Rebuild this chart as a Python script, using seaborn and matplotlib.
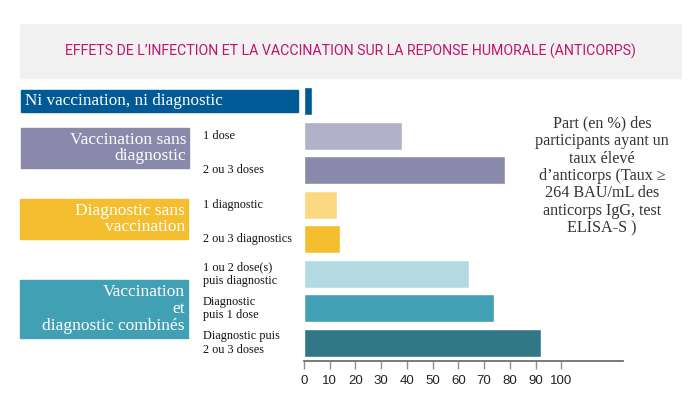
import seaborn as sns
import matplotlib.pyplot as plt
import matplotlib.transforms as mtransforms
from matplotlib.patches import Rectangle
import pandas as pd

# Data
bar_labels = [
    "Ni vaccination, ni diagnostic",
    "1 dose",
    "2 ou 3 doses",
    "1 diagnostic",
    "2 ou 3 diagnostics",
    "1 ou 2 dose(s)\npuis diagnostic",
    "Diagnostic\npuis 1 dose",
    "Diagnostic puis\n2 ou 3 doses",
]
values = [3, 38, 78, 13, 14, 64, 74, 92]
bar_colors = ["#005a96", "#b1b1c9", "#8a89ab", "#fad982", "#f5be2f",
              "#b3dae3", "#42a0b4", "#317787"]

group_labels = ["Ni vaccination, ni diagnostic", "Vaccination sans\ndiagnostic",
                "Diagnostic sans\nvaccination", "Vaccination\net\ndiagnostic combinés"]
group_colors = ["#005a96", "#8a89ab", "#f5be2f", "#42a0b4"]

x_ticks = [0, 10, 20, 30, 40, 50, 60, 70, 80, 90, 100]
title = "EFFETS DE L\u2019INFECTION ET LA VACCINATION SUR LA REPONSE HUMORALE (ANTICORPS)"
note = ("Part (en %) des\nparticipants ayant un\ntaux élevé\nd\u2019anticorps (Taux \u2265\n"
        "264 BAU/mL des\nanticorps IgG, test\nELISA-S )")

W, H = 700, 395
SERIF = ["Liberation Serif", "DejaVu Serif"]

sns.set_style("white")
plt.rcParams["font.family"] = ["Liberation Sans", "DejaVu Sans"]

fig = plt.figure(figsize=(W / 100, H / 100), dpi=100)


def px_box(x0, y0, x1, y1):
    # pixel box (top-left origin) -> figure coords
    return [x0 / W, 1 - y1 / H, (x1 - x0) / W, (y1 - y0) / H]


# title band
fig.patches.append(Rectangle((20 / W, 1 - 78 / H), 661 / W, 54 / H,
                             transform=fig.transFigure, color="#f1f1f1", zorder=0))
t = fig.text(350 / W, 1 - 51 / H, title, ha="center", va="center", color="#c0136f",
             fontsize=12, family=["Roboto", "DejaVu Sans"])
# shrink the title so it spans the same width as the original (~571 px)
r = fig.canvas.get_renderer()
t.set_fontsize(12 * 571 / t.get_window_extent(r).width)

# bars
ax = fig.add_axes(px_box(304, 83.7, 623, 361))
df = pd.DataFrame({"label": bar_labels, "value": values})
sns.barplot(data=df, x="value", y="label", hue="label", palette=bar_colors,
            legend=False, saturation=1, width=0.81, ax=ax)
ax.set_xlim(0, 124)
ax.set_ylim(7.52, -0.5)
ax.set_xticks(x_ticks)
ax.set_xticklabels([str(t) for t in x_ticks], fontsize=9.5, color="#222222")
ax.set_yticks([])
ax.set_xlabel("")
ax.set_ylabel("")
for s in ["top", "right", "left"]:
    ax.spines[s].set_visible(False)
ax.spines["bottom"].set_color("#707070")
ax.spines["bottom"].set_linewidth(1.3)
ax.tick_params(axis="x", bottom=True, direction="out", length=6, width=1,
               color="#909090", pad=4)

# sub labels next to the bars
trans = mtransforms.blended_transform_factory(fig.transFigure, ax.transData)
for i, lab in enumerate(bar_labels[1:], start=1):
    ax.text(203 / W, i, lab, transform=trans, ha="left", va="center",
            fontsize=8.8, family=SERIF, color="#111111", linespacing=1.15)

# group boxes on the left
boxes = [(21, 90, 298, 112), (21, 128, 189, 168), (20, 199, 188, 239), (20, 280, 188, 338)]
for k, (x0, y0, x1, y1) in enumerate(boxes):
    fig.patches.append(Rectangle((x0 / W, 1 - y1 / H), (x1 - x0) / W, (y1 - y0) / H,
                                 transform=fig.transFigure, color=group_colors[k], zorder=0))
    if k == 0:
        fig.text((x0 + 4) / W, 1 - (y0 + y1) / 2 / H, group_labels[k], ha="left",
                 va="center", color="white", fontsize=12.3, family=SERIF)
    else:
        fig.text((x1 - 3) / W, 1 - (y0 + y1) / 2 / H, group_labels[k], ha="right",
                 va="center", color="white", fontsize=12.5, family=SERIF,
                 multialignment="right", linespacing=1.05)

# note on the right
fig.text(602 / W, 1 - 176 / H, note, ha="center", va="center", color="#333333",
         fontsize=11.6, family=SERIF, linespacing=1.12)

fig.savefig("out.png", dpi=100)
